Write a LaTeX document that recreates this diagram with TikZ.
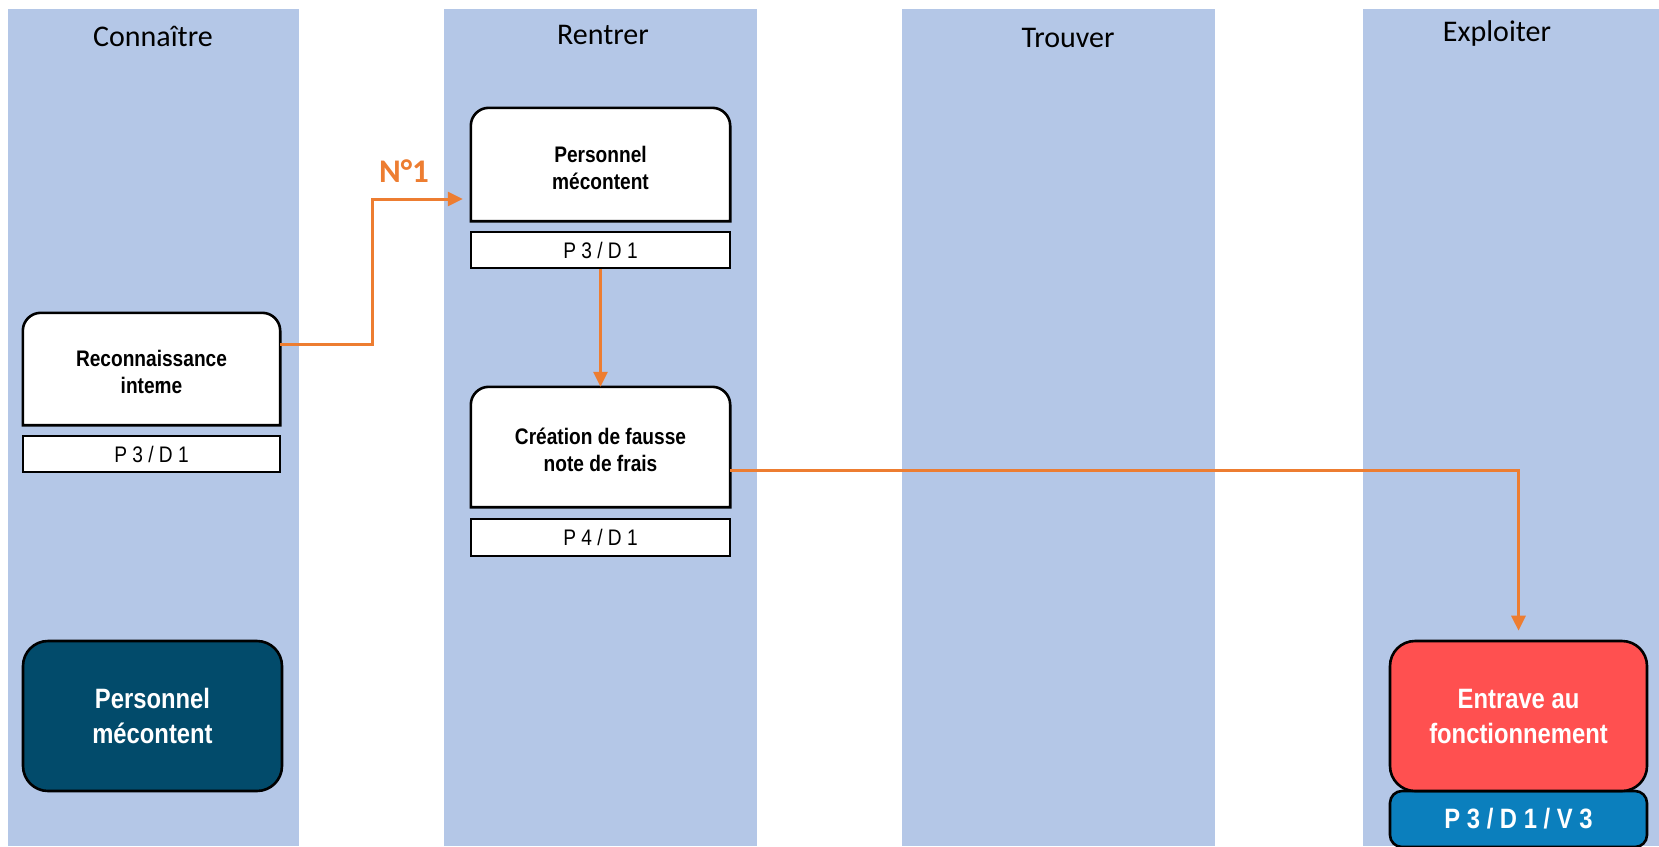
\documentclass[tikz,border=0pt]{standalone}
\usepackage{fontspec}
\setmainfont{Carlito}
\newfontfamily\narrowfont[FakeStretch=0.85]{Liberation Sans}
\usetikzlibrary{arrows.meta}
\definecolor{lane}{HTML}{B4C7E7}
\definecolor{darkbox}{HTML}{024B6B}
\definecolor{redbox}{HTML}{FF5050}
\definecolor{bluebox}{HTML}{0B7FBD}
\definecolor{orng}{HTML}{ED7D31}
\tikzset{
  lanebox/.style={fill=lane, draw=none},
  header/.style={anchor=base, font=\fontsize{30}{36}\selectfont},
  stepbox/.style={inner sep=0pt, align=center, font=\narrowfont\bfseries\fontsize{22.5}{27}\selectfont},
  refbox/.style={draw=black, line width=2.6pt, fill=white, inner sep=0pt, font=\narrowfont\fontsize{22.5}{26}\selectfont},
  bigbox/.style={draw=black, line width=2.6pt, rounded corners=25pt, inner sep=0pt, align=center, text=white, font=\narrowfont\bfseries\fontsize{28}{35}\selectfont},
  flow/.style={draw=orng, line width=3pt, -{Triangle[length=15pt,width=14pt]}},
  boxline/.style={draw=black, line width=2.6pt, fill=white},
}
\newcommand\toprounded[1]{%
  \draw[boxline] (#1.south west) -- ([yshift=-18pt]#1.north west)
    arc[start angle=180,end angle=90,radius=18pt]
    -- ([xshift=-18pt]#1.north east)
    arc[start angle=90,end angle=0,radius=18pt]
    -- (#1.south east) -- cycle;}
\begin{document}
\begin{tikzpicture}[x=1pt,y=1pt]
\useasboundingbox (0,0) rectangle (1659,-846);
\fill[white] (0,0) rectangle (1659,-846);
% lanes
\fill[lanebox] (8,-9) rectangle (299,-846);
\fill[lanebox] (444,-9) rectangle (757,-846);
\fill[lanebox] (902,-9) rectangle (1215,-846);
\fill[lanebox] (1363,-9) rectangle (1659,-846);
\node[header] (h1) at (153,-46) {Connaître};
\node[header] (h2) at (603,-44) {Rentrer};
\node[header] (h3) at (1068,-47) {Trouver};
\node[header] (h4) at (1497,-41) {Exploiter};
% step boxes (geometry nodes)
\node[minimum width=257pt, minimum height=112pt, inner sep=0pt] (reco) at (151.5,-369) {};
\node[minimum width=259pt, minimum height=113pt, inner sep=0pt] (pers) at (600.5,-164.5) {};
\node[minimum width=259pt, minimum height=120pt, inner sep=0pt] (crea) at (600.5,-447) {};
\toprounded{reco}
\toprounded{pers}
\toprounded{crea}
\node[stepbox] (recot) at ([yshift=-3pt]reco.center) {Reconnaissance\\inte{r}\kern-2.2pt ne};
\node[stepbox] (perst) at ([yshift=-3pt]pers.center) {Personnel\\mécontent};
\node[stepbox] (creat) at ([yshift=-3pt]crea.center) {Création de fausse\\note de frais};
\node[refbox, minimum width=257pt, minimum height=36pt] (recop) at (151.5,-454) {P 3 / D 1};
\node[refbox, minimum width=259pt, minimum height=36pt] (persp) at (600.5,-250) {P 3 / D 1};
\node[refbox, minimum width=259pt, minimum height=37pt] (creap) at (600.5,-537.5) {P 4 / D 1};
% final boxes
\node[bigbox, fill=darkbox, minimum width=259pt, minimum height=150pt] (dark) at (152.5,-716) {Personnel\\mécontent};
\node[bigbox, fill=bluebox, rounded corners=12pt, minimum width=257pt, minimum height=56pt] (blue) at (1518.5,-819) {P 3 / D 1 / V 3};
\node[bigbox, fill=redbox, minimum width=257pt, minimum height=150pt] (red) at (1518.5,-716) {Entrave au\\fonctionnement};
% connectors
\draw[flow, shorten >=8pt] ([yshift=25pt]reco.east) -- ++(92,0) |- ([yshift=-34.5pt]pers.west);
\node[anchor=base, text=orng, font=\bfseries\fontsize{33}{38}\selectfont] (n1) at (404,-182) {N°1};
\draw[flow] (persp.south) -- (crea.north);
\draw[flow, shorten >=9pt] ([yshift=-23pt]crea.east) -| (red.north);
\end{tikzpicture}
\end{document}
